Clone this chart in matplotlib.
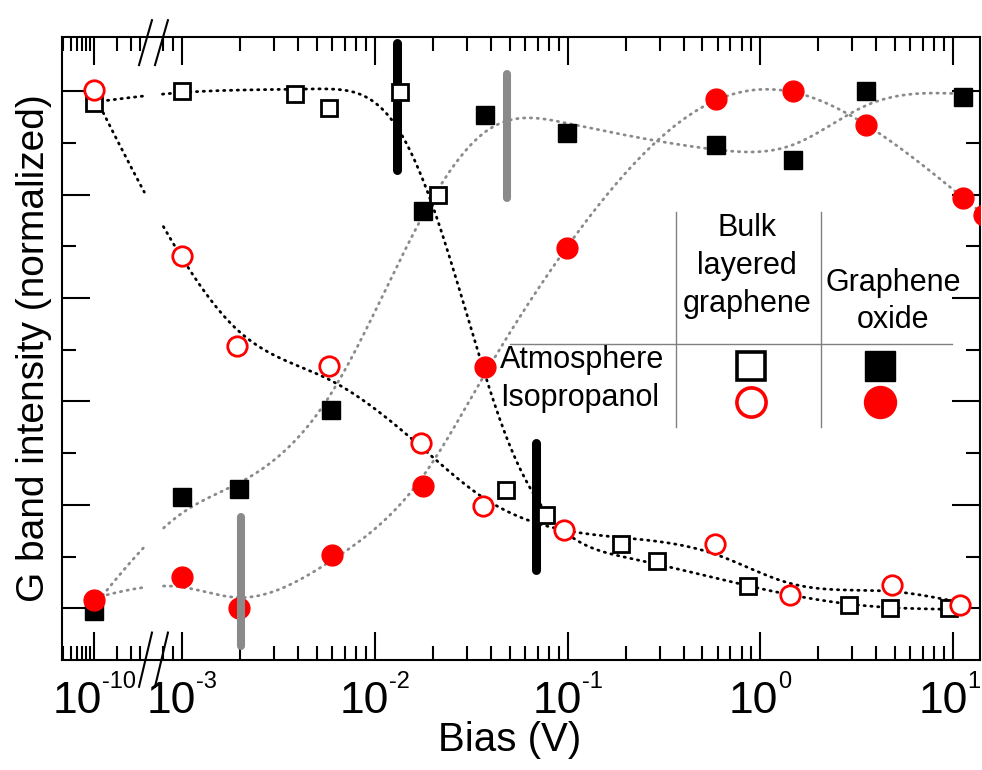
import numpy as np
import matplotlib
matplotlib.use("Agg")
import matplotlib.pyplot as plt
from matplotlib.ticker import FixedLocator, NullFormatter
from matplotlib.transforms import blended_transform_factory

plt.rcParams['font.family'] = ['Liberation Sans', 'DejaVu Sans']

# ---- data (bias in V, normalized G band intensity) ----
bulk_atm_x = [1e-10, 1e-3, 3.85e-3, 5.8e-3, 0.0135, 0.0212, 0.048, 0.0775, 0.19, 0.29, 0.86, 2.9, 4.7, 9.5]
bulk_atm_y = [0.978, 1.0, 0.994, 0.968, 0.998, 0.80, 0.228, 0.181, 0.125, 0.091, 0.043, 0.007, 0.0, 0.0]

bulk_iso_x = [1e-10, 1e-3, 1.93e-3, 5.8e-3, 0.0173, 0.0366, 0.096, 0.58, 1.43, 4.8, 10.9]
bulk_iso_y = [1.002, 0.681, 0.507, 0.468, 0.32, 0.197, 0.151, 0.124, 0.025, 0.046, 0.007]

go_atm_x = [1e-10, 1e-3, 1.98e-3, 5.9e-3, 0.0177, 0.0375, 0.099, 0.59, 1.48, 3.55, 11.3]
go_atm_y = [-0.005, 0.215, 0.23, 0.383, 0.768, 0.954, 0.919, 0.896, 0.867, 1.0, 0.988]

go_iso_x = [1e-10, 1e-3, 1.98e-3, 6.0e-3, 0.0177, 0.0373, 0.099, 0.59, 1.48, 3.55, 11.3, 14.5]
go_iso_y = [0.0155, 0.061, 0.0, 0.104, 0.236, 0.466, 0.696, 0.985, 1.0, 0.934, 0.793, 0.76]

# threshold bars: (bias, y_low, y_high)
black_bars = [(0.0130, 0.847, 1.093), (0.0684, 0.075, 0.320)]
gray_bars = [(0.0484, 0.793, 1.034), (2.02e-3, -0.072, 0.176)]

major_ticks = [1e-10, 1e-3, 1e-2, 1e-1, 1, 10]
tick_exponents = ['-10', '-3', '-2', '-1', '0', '1']

# ---- broken log axis: 1e-10 decade compressed and glued to the left of 1e-3 ----
U10 = -3.457      # position of 1e-10 in right-hand decades
R = 0.4           # decade width ratio of the left piece
U_BREAK = -3.15
LA = -10 + (U_BREAK - U10) / R
GAP_LO, GAP_HI = -3.192, -3.104


def fwd(x):
    L = np.log10(np.clip(np.asarray(x, dtype=float), 1e-300, None))
    left = U10 + R * (L + 10)
    return np.where(L >= U_BREAK, L, np.where(L <= LA, left, U_BREAK))


def inv(u):
    u = np.asarray(u, dtype=float)
    left = 10 ** ((u - U10) / R - 10)
    return np.where(u >= U_BREAK, 10 ** u, left)


def smooth_curve(xv, yv, lam):
    # penalised smoothing curve through the points, in axis (log) space
    u = fwd(xv)
    yv = np.asarray(yv, dtype=float)
    ug = np.linspace(u.min(), u.max(), 500)
    h = ug[1] - ug[0]
    n = len(ug)
    idx = np.clip(((u - ug[0]) / h).astype(int), 0, n - 2)
    t = (u - ug[idx]) / h
    A = np.zeros((len(u), n))
    A[np.arange(len(u)), idx] = 1 - t
    A[np.arange(len(u)), idx + 1] = t
    D = np.diff(np.eye(n), 2, axis=0)
    f = np.linalg.solve(A.T @ A + lam / h ** 3 * (D.T @ D), A.T @ yv)
    f[(ug > GAP_LO) & (ug < GAP_HI)] = np.nan
    return inv(ug), f


fig = plt.figure(figsize=(9.82, 7.7), dpi=100)
ax = fig.add_axes([62 / 982, 110 / 770, 918 / 982, 623 / 770])
ax.set_xscale('function', functions=(fwd, inv))
ax.set_xlim(3.85e-11, 13.8)
ax.set_ylim(-0.10, 1.105)

dot = dict(linestyle=(0, (0.45, 2.0)), lw=2.0, dash_capstyle='round')
grey = '#8a8a8a'

for xs, ys, col, lam in [(bulk_atm_x, bulk_atm_y, 'black', 6e-3),
                         (bulk_iso_x, bulk_iso_y, 'black', 6e-3),
                         (go_atm_x, go_atm_y, grey, 5e-3),
                         (go_iso_x, go_iso_y, grey, 3e-3)]:
    cx, cy = smooth_curve(xs, ys, lam)
    ax.plot(cx, cy, color=col, zorder=2, **dot)

for bx, y0, y1 in gray_bars:
    ax.plot([bx, bx], [y0, y1], color=grey, lw=5.8, solid_capstyle='round', zorder=4)

ax.plot(go_atm_x, go_atm_y, 's', ms=13, color='black', mec='black', zorder=3)
ax.plot(go_iso_x, go_iso_y, 'o', ms=15, color='red', mec='red', zorder=3)
ax.plot(bulk_atm_x, bulk_atm_y, 's', ms=12, mfc='white', mec='black', mew=2.0, zorder=5)
ax.plot(bulk_iso_x, bulk_iso_y, 'o', ms=14, mfc='white', mec='red', mew=2.0, zorder=5)

for bx, y0, y1 in black_bars:
    ax.plot([bx, bx], [y0, y1], color='black', lw=6.5, solid_capstyle='round', zorder=4)

# ---- ticks ----
minor = [k * 1e-11 for k in range(4, 10)] + [k * 1e-10 for k in range(2, 5)] + [8e-4, 9e-4]
minor += [k * 10.0 ** e for e in (-3, -2, -1, 0) for k in range(2, 10)]
ax.xaxis.set_major_locator(FixedLocator(major_ticks))
ax.xaxis.set_major_formatter(NullFormatter())
ax.xaxis.set_minor_locator(FixedLocator(minor))
ax.xaxis.set_minor_formatter(NullFormatter())
ax.yaxis.set_major_locator(FixedLocator([0, 0.2, 0.4, 0.6, 0.8, 1.0]))
ax.yaxis.set_minor_locator(FixedLocator([0.1, 0.3, 0.5, 0.7, 0.9]))
ax.yaxis.set_major_formatter(NullFormatter())
ax.tick_params(which='both', direction='in', top=True, right=True, width=1.5)
ax.tick_params(which='major', length=20)
ax.tick_params(which='minor', length=10)
for s in ax.spines.values():
    s.set_linewidth(1.5)

# tick labels "10" with a small raised exponent
tr = blended_transform_factory(ax.transData, ax.transAxes)
BASE_FS, EXP_FS = 32, 17
for tv, ex in zip(major_ticks, tick_exponents):
    w10 = 1.112 * BASE_FS
    wex = (0.556 * sum(c.isdigit() for c in ex) + 0.333 * ('-' in ex)) * EXP_FS
    dx = (w10 - wex) / 2
    if tv == major_ticks[-1]:
        dx -= 2.5
    ax.annotate('10', xy=(tv, 0), xycoords=tr, xytext=(dx, -38), textcoords='offset points',
                ha='right', va='baseline', fontsize=BASE_FS, annotation_clip=False)
    ax.annotate(ex, xy=(tv, 0), xycoords=tr, xytext=(dx, -20), textcoords='offset points',
                ha='left', va='baseline', fontsize=EXP_FS, annotation_clip=False)

ax.set_xlabel('Bias (V)', fontsize=29)
ax.xaxis.set_label_coords(0.488, -0.098)
ax.set_ylabel('G band intensity (normalized)', fontsize=28, labelpad=4)

# ---- axis break marks ----
for dx in (0.0, 0.0174):
    ax.plot([0.0839 + dx, 0.098 + dx], [0.955, 1.027], color='black', lw=1.5,
            transform=ax.transAxes, clip_on=False, zorder=6)
    ax.plot([0.0839 + dx, 0.098 + dx], [-0.043, 0.044], color='black', lw=1.5,
            transform=ax.transAxes, clip_on=False, zorder=6)

# ---- table-like legend ----
tc = '#808080'
ax.plot([0.669, 0.669], [0.374, 0.719], color=tc, lw=1.0, transform=ax.transAxes)
ax.plot([0.827, 0.827], [0.374, 0.719], color=tc, lw=1.0, transform=ax.transAxes)
ax.plot([0.488, 0.9695], [0.507, 0.507], color=tc, lw=1.0, transform=ax.transAxes)
ax.text(0.746, 0.632, 'Bulk\nlayered\ngraphene', transform=ax.transAxes, fontsize=22,
        ha='center', va='center', linespacing=1.35)
ax.text(0.905, 0.5755, 'Graphene\noxide', transform=ax.transAxes, fontsize=22,
        ha='center', va='center', linespacing=1.33)
ax.text(0.477, 0.4815, 'Atmosphere', transform=ax.transAxes, fontsize=22, ha='left', va='center')
ax.text(0.477, 0.4205, 'Isopropanol', transform=ax.transAxes, fontsize=22, ha='left', va='center')
ax.plot(0.7505, 0.472, 's', ms=20, mfc='white', mec='black', mew=2.6, transform=ax.transAxes)
ax.plot(0.891, 0.472, 's', ms=21, color='black', transform=ax.transAxes)
ax.plot(0.7505, 0.414, 'o', ms=21, mfc='white', mec='red', mew=2.6, transform=ax.transAxes)
ax.plot(0.891, 0.414, 'o', ms=23, color='red', transform=ax.transAxes)

fig.savefig('out.png', dpi=100)
